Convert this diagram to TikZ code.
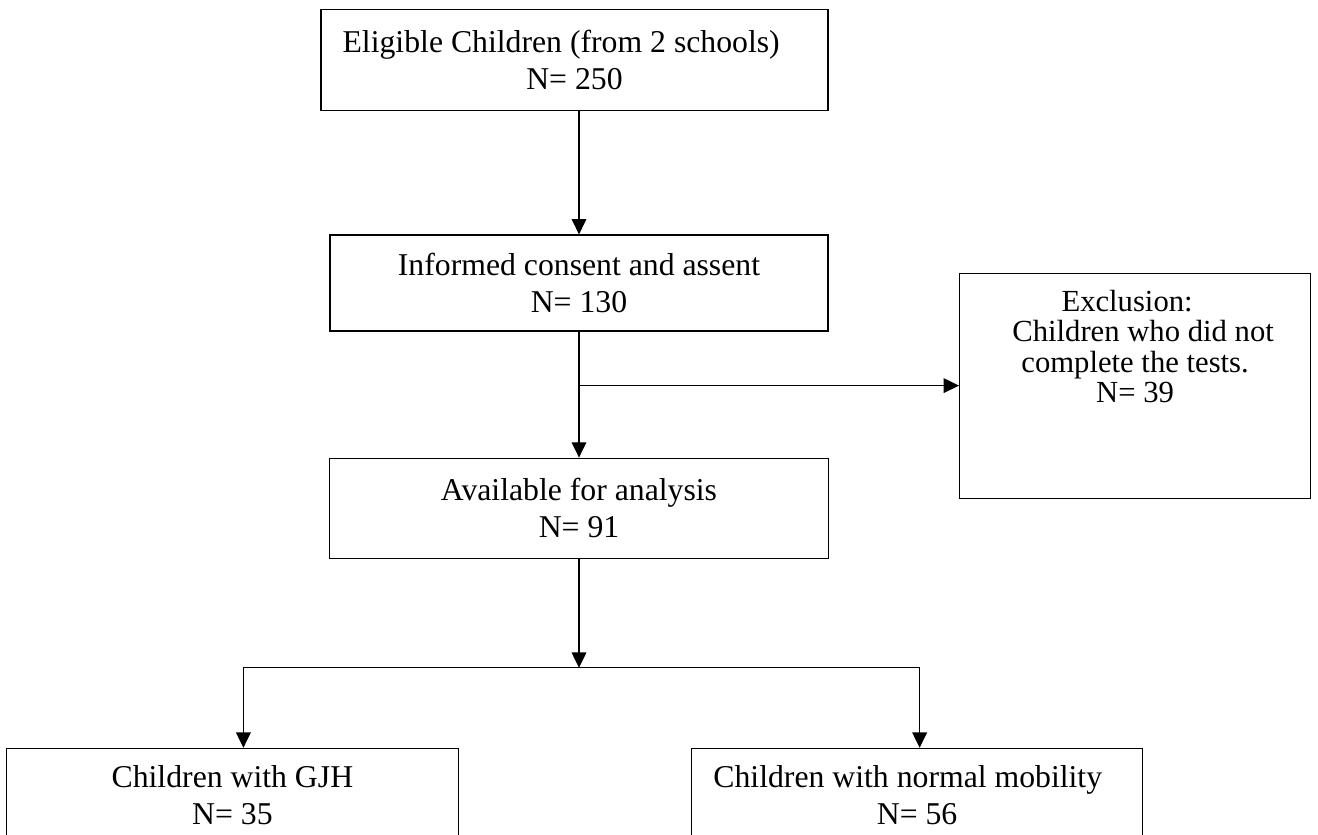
\documentclass[tikz,border=0pt]{standalone}
\usepackage{fontspec}
\setmainfont{Liberation Serif}
\usetikzlibrary{arrows.meta, positioning}

\newcommand{\flowfont}{\fontsize{23.8}{27.75}\selectfont}
\newcommand{\exclfont}{\fontsize{23}{22.9}\selectfont}

\begin{document}
\begin{tikzpicture}[
    x=0.75pt, y=-0.75pt,
    flowbox/.style={rectangle, draw, line width=0.9pt, inner sep=0pt, align=center, font=\flowfont},
    plainbox/.style={rectangle, draw, line width=0.9pt, inner sep=0pt},
    plaintext/.style={inner sep=0pt, align=center, font=\exclfont},
    arrow/.style={-{Triangle[length=11.5pt, width=11pt]}, line width=0.9pt},
]

% ============ Frame ============
\useasboundingbox (0,0) rectangle (1318,835);
\clip (0,0) rectangle (1318,835);

% ============ Main column ============
\node[flowbox, minimum width=373.5pt, minimum height=72pt] (consent) at (579,283) {Informed consent and assent\\N= 130};
\node[flowbox, minimum width=380.25pt, minimum height=75.75pt, above=92.25pt of consent, xshift=-3.375pt] (elig) {Eligible Children (from 2 schools)\hspace*{20pt}\\N= 250};

\coordinate[below=40.5pt of consent] (split);

\node[flowbox, minimum width=374.25pt, minimum height=75pt, below=94.5pt of consent] (avail) {Available for analysis\\N= 91};

% ============ Exclusion ============
\node[plainbox, minimum width=263.25pt, minimum height=168.75pt, right=285pt of split] (excl) {};
\node[plaintext, below=12.75pt of excl.north] (excltext) {Exclusion:\hspace*{12pt}\\\hspace*{12pt}Children who did not\\complete the tests.\\N= 39};

% ============ Groups ============
\coordinate[below=81.75pt of avail] (fork);

\node[flowbox, minimum width=339pt, minimum height=69.75pt, below left=60pt and 90pt of fork] (gjh) {Children with GJH\\N= 35};
\node[flowbox, minimum width=338.25pt, minimum height=69.75pt, below right=60pt and 84pt of fork] (normal) {Children with normal mobility\hspace*{14pt}\\N= 56};

% Arrows
\draw[arrow] (consent.north |- elig.south) -- (consent.north);
\draw[arrow] (consent) -- (avail);
\draw[arrow] (split) -- (excl);
\draw[arrow] (avail) -- (fork);
\draw[arrow] (fork) -| ([xshift=8.25pt]gjh.north);
\draw[arrow] (fork) -| ([xshift=1.9pt]normal.north);

\end{tikzpicture}
\end{document}
